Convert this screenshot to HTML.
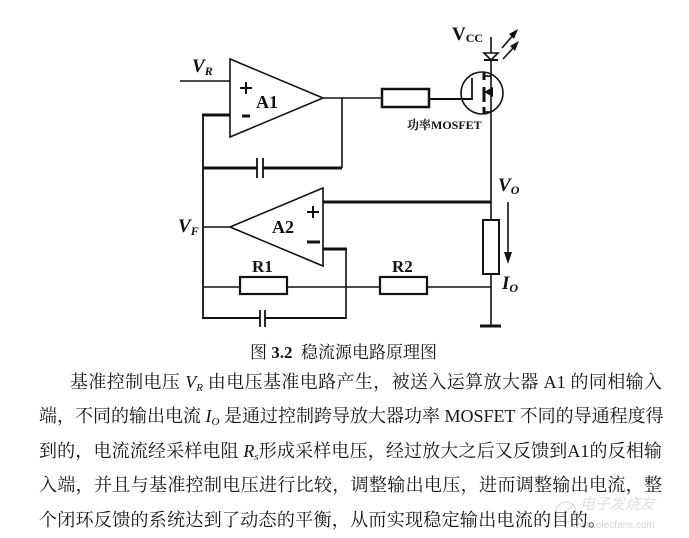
<!DOCTYPE html>
<html><head><meta charset="utf-8">
<style>
html,body{margin:0;padding:0;background:#fff;}
body{width:689px;height:538px;position:relative;overflow:hidden;}
svg{position:absolute;left:0;top:0;}
.t{position:absolute;font-family:"Liberation Serif","Noto Serif CJK SC",serif;font-size:18px;color:#151515;line-height:34px;height:34px;white-space:nowrap;}
.j{text-align:justify;text-align-last:justify;}
.t i{font-style:italic;}
.t sub{font-size:11px;vertical-align:-3px;line-height:0;}
</style></head>
<body>
<svg width="689" height="538" viewBox="0 0 689 538" xmlns="http://www.w3.org/2000/svg">
<g stroke="#111" fill="none" stroke-width="1.6">
  <!-- A1 -->
  <line x1="180" y1="81" x2="230" y2="81"/>
  <polygon points="230,59 230,137 323,98"/>
  <line x1="240" y1="88" x2="252" y2="88" stroke-width="2"/>
  <line x1="246" y1="82" x2="246" y2="94" stroke-width="2"/>
  <line x1="242" y1="116" x2="250" y2="116" stroke-width="3"/>
  <line x1="202" y1="115" x2="230" y2="115" stroke-width="3"/>
  <line x1="323" y1="98" x2="382" y2="98"/>
  <rect x="382" y="89" width="47" height="18" stroke-width="2.5"/>
  <line x1="429" y1="99" x2="472" y2="99" stroke-width="2"/>
  <!-- A1 feedback cap -->
  <line x1="342" y1="98" x2="342" y2="168"/>
  <line x1="203" y1="168" x2="257" y2="168" stroke-width="3"/>
  <line x1="263" y1="168" x2="342" y2="168" stroke-width="3"/>
  <line x1="257" y1="158" x2="257" y2="178" stroke-width="1.8"/>
  <line x1="263" y1="158" x2="263" y2="178" stroke-width="1.8"/>
  <!-- left vertical -->
  <line x1="203" y1="114" x2="203" y2="319" stroke-width="1.8"/>
  <!-- MOSFET -->
  <circle cx="482" cy="93" r="21"/>
  <line x1="472" y1="78" x2="472" y2="100" stroke-width="1.8"/>
  <line x1="484" y1="73" x2="484" y2="80" stroke-width="3"/>
  <line x1="484" y1="87" x2="484" y2="102" stroke-width="3"/>
  <line x1="484" y1="107" x2="484" y2="114" stroke-width="3"/>
  <line x1="484" y1="76" x2="491" y2="76"/>
  <line x1="484" y1="112" x2="491" y2="112"/>
  <polygon points="484,92 493,87 493,97" fill="#111" stroke="none"/>
  <line x1="491" y1="37" x2="491" y2="327"/>
  <!-- LED -->
  <polygon points="484,53 498,53 491,60" fill="#fff"/>
  <line x1="484" y1="60" x2="498" y2="60" stroke-width="2"/>
  <line x1="502" y1="48" x2="514" y2="34"/>
  <polygon points="518,29 509,34 514,39" fill="#111" stroke="none"/>
  <line x1="503" y1="59" x2="515" y2="46"/>
  <polygon points="519,41 510,46 515,51" fill="#111" stroke="none"/>
  <!-- A2 -->
  <line x1="323" y1="202" x2="491" y2="202" stroke-width="3"/>
  <polygon points="323,188 323,266 230,227"/>
  <line x1="307" y1="212" x2="319" y2="212" stroke-width="2"/>
  <line x1="313" y1="206" x2="313" y2="218" stroke-width="2"/>
  <line x1="307" y1="242" x2="320" y2="242" stroke-width="3"/>
  <line x1="203" y1="227" x2="230" y2="227"/>
  <line x1="323" y1="249" x2="347" y2="249" stroke-width="3"/>
  <line x1="346" y1="249" x2="346" y2="319"/>
  <!-- R1 R2 row -->
  <line x1="203" y1="287" x2="240" y2="287"/>
  <rect x="240" y="277" width="47" height="17" stroke-width="2.2"/>
  <line x1="287" y1="287" x2="380" y2="287"/>
  <rect x="380" y="277" width="47" height="17" stroke-width="2.2"/>
  <line x1="427" y1="287" x2="491" y2="287"/>
  <!-- bottom cap -->
  <line x1="203" y1="318" x2="260" y2="318" stroke-width="2"/>
  <line x1="265" y1="318" x2="346" y2="318" stroke-width="2"/>
  <line x1="260" y1="310" x2="260" y2="327" stroke-width="1.8"/>
  <line x1="265" y1="310" x2="265" y2="327" stroke-width="1.8"/>
  <!-- sense resistor -->
  <rect x="483" y="220" width="16" height="54" fill="#fff" stroke-width="2"/>
  <!-- current arrow -->
  <line x1="508" y1="202" x2="508" y2="254"/>
  <polygon points="504,252 512,252 508,264" fill="#111" stroke="none"/>
  <!-- ground -->
  <line x1="480" y1="326" x2="501" y2="326" stroke-width="3"/>
</g>
<g font-family="Liberation Serif, serif" font-weight="bold" fill="#111">
  <text x="192" y="72" font-size="19" font-style="italic">V<tspan font-size="12" dy="3">R</tspan></text>
  <text x="256" y="108" font-size="18">A1</text>
  <text x="452" y="40" font-size="19">V<tspan font-size="12" dy="2">CC</tspan></text>
  <text x="498" y="191" font-size="19" font-style="italic">V<tspan font-size="12" dy="3">O</tspan></text>
  <text x="272" y="233" font-size="18">A2</text>
  <text x="178" y="232" font-size="19" font-style="italic">V<tspan font-size="12" dy="3">F</tspan></text>
  <text x="252" y="272" font-size="17">R1</text>
  <text x="392" y="272" font-size="17">R2</text>
  <text x="502" y="289" font-size="19" font-style="italic">I<tspan font-size="12" dy="3">O</tspan></text>
  <text x="407" y="129" font-size="12" font-family="Liberation Serif, Noto Serif CJK SC, serif">功率MOSFET</text>
</g>
<g fill="none" stroke="#dedede" stroke-width="1.2">
  <circle cx="566" cy="512" r="10"/>
  <line x1="558" y1="520" x2="574" y2="504"/>
</g>
<text x="580" y="509" font-family="Liberation Sans, Noto Sans CJK SC, sans-serif" font-size="15" fill="#e0e0e0" font-style="italic">电子发烧友</text>
<text x="572" y="528" font-family="Liberation Sans, sans-serif" font-size="10" fill="#d4d4d4">www.elecfans.com</text>
</svg>

<div class="t" style="left:250px;top:336px;font-size:17px;">图 <b>3.2</b>&nbsp; 稳流源电路原理图</div>
<div class="t j" style="left:70px;top:365px;width:592px;">基准控制电压 <i>V<sub>R</sub></i> 由电压基准电路产生，被送入运算放大器 A1 的同相输入</div>
<div class="t j" style="left:39px;top:399px;width:623px;">端，不同的输出电流 <i>I<sub>O</sub></i> 是通过控制跨导放大器功率 MOSFET 不同的导通程度得</div>
<div class="t j" style="left:39px;top:434px;width:623px;">到的，电流流经采样电阻 <i>R<sub>s</sub></i>形成采样电压，经过放大之后又反馈到A1的反相输</div>
<div class="t j" style="left:39px;top:468px;width:623px;">入端，并且与基准控制电压进行比较，调整输出电压，进而调整输出电流，整</div>
<div class="t" style="left:39px;top:503px;letter-spacing:0.3px;">个闭环反馈的系统达到了动态的平衡，从而实现稳定输出电流的目的。</div>
</body></html>
